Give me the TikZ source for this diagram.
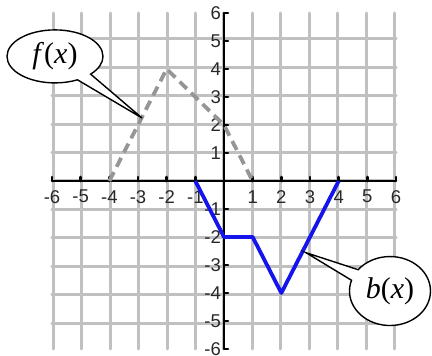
\documentclass[tikz,border=0pt]{standalone}
\usepackage{fontspec}
\setmainfont{Liberation Serif}
\newfontfamily\axfont{Liberation Sans}
\usetikzlibrary{shapes.callouts}
\definecolor{gridgray}{RGB}{192,192,192}
\definecolor{dashgray}{RGB}{150,150,150}
\definecolor{bblue}{RGB}{20,20,235}
\definecolor{labcol}{RGB}{40,40,40}
\begin{document}
\begin{tikzpicture}[x=28.67pt,y=28pt,
  gridline/.style={draw=gridgray, line width=3pt, line cap=round, line join=round},
  axisline/.style={draw=black, line width=2.6pt},
  tickline/.style={draw=black, line width=2.6pt, line cap=round},
  xlab/.style={font=\axfont\fontsize{18.5}{18.5}\selectfont, text=labcol, inner sep=0pt, anchor=center},
  ylab/.style={font=\axfont\fontsize{18.5}{18.5}\selectfont, text=labcol, inner sep=0pt, anchor=east},
  fcurve/.style={draw=dashgray, line width=3.8pt, dash pattern=on 10pt off 6pt},
  bcurve/.style={draw=bblue, line width=3.8pt, line join=round},
  bubble/.style={ellipse callout, draw=black, fill=white, line width=1.4pt, inner sep=0pt,
     callout pointer arc=20, font=\fontsize{30}{30}\selectfont}]
\useasboundingbox (-224pt,-175pt) rectangle (208pt,181pt);
% grid
\draw[gridline] (-6,-6) grid (6,6);
% axes
\draw[axisline] (-6,0) -- (6,0);
\draw[axisline] (0,-6) -- (0,6);
\foreach \x in {-6,...,6} \draw[tickline] (\x,0) -- ++(0,4pt);
\foreach \y in {-6,...,6} \draw[tickline] (0,\y) -- ++(4pt,0);
% labels
\foreach \x in {-6,-5,-4,-3,-2,-1,1,2,3,4,5,6}
  \node[xlab] (xl\x) at (\x,-0.56) {\x};
\foreach \y in {-6,-5,-4,-3,-2,-1,1,2,3,4,5,6}
  \node[ylab] (yl\y) at (-0.1,\y) {\y};
% f(x)
\coordinate (f1) at (-4,0);
\coordinate (f2) at (-2,4);
\coordinate (f3) at (0,2);
\coordinate (f4) at (1,0);
\draw[fcurve] (f1) -- (f2) -- (f3) -- (f4);
% b(x)
\coordinate (b1) at (-1,0);
\coordinate (b2) at (0,-2);
\coordinate (b3) at (1,-2);
\coordinate (b4) at (2,-4);
\coordinate (b5) at (4,0);
\draw[bcurve] (b1) -- (b2) -- (b3) -- (b4) -- (b5);
% callouts
\coordinate (ftip) at (-2.86,2.25);
\coordinate (btip) at (2.86,-2.56);
\node[bubble, minimum width=96pt, minimum height=53pt, callout absolute pointer={(ftip)}]
  (fx) at (-5.895,4.45) {\textit{f}(\textit{x})};
\node[bubble, minimum width=81pt, minimum height=69pt, callout absolute pointer={(btip)}]
  (bx) at (5.79,-3.93) {\textit{b}(\textit{x})};
\end{tikzpicture}
\end{document}
